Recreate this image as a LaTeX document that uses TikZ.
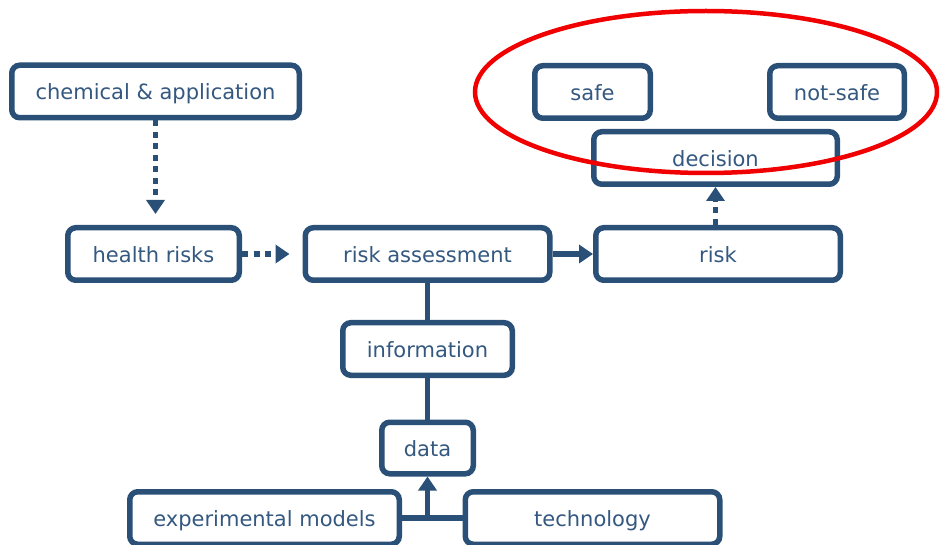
\documentclass[tikz,border=0pt]{standalone}
\usepackage{fontspec}
\setmainfont{DejaVu Sans}
\usetikzlibrary{arrows.meta,calc}
\definecolor{navy}{RGB}{42,80,120}
\definecolor{navytext}{RGB}{52,88,128}
\definecolor{hlred}{RGB}{240,0,0}
\tikzset{
  box/.style={draw=navy, line width=5.5pt, rounded corners=8pt, minimum height=52.5pt,
    inner sep=0pt, text height=19pt, text depth=2pt,
    text=navytext, font=\fontsize{21}{25}\selectfont, fill=white},
  conn/.style={draw=navy, line width=5.5pt},
  tip/.style={-{Triangle[width=18pt,length=14pt]}},
  dots/.style={dash pattern=on 6pt off 5.5pt},
}
\begin{document}
\begin{tikzpicture}[x=1pt,y=-1pt]
\useasboundingbox (0,0) rectangle (940,545);
\fill[white] (0,0) rectangle (940,545);
\node[box, minimum width=287.5pt] (chem) at (155.5,91.5) {chemical \& application};
\node[box, minimum width=171.5pt] (health) at (153.5,254) {health risks};
\node[box, minimum width=244.5pt] (ra) at (427.5,254) {risk assessment};
\node[box, minimum width=244.5pt] (risk) at (718,254) {risk};
\node[box, minimum width=243.5pt] (dec) at (715.5,158) {decision};
\node[box, minimum width=115.5pt] (safe) at (592.5,92) {safe};
\node[box, minimum width=134.5pt] (nsafe) at (837,92) {not-safe};
\node[box, minimum width=169.5pt] (info) at (427.5,349) {information};
\node[box, minimum width=91.5pt, minimum height=51.5pt] (data) at (427.5,448) {data};
\node[box, minimum width=269.5pt] (exp) at (264.5,518) {experimental models};
\node[box, minimum width=254.5pt] (tech) at (592.5,518) {technology};
\coordinate (j) at (data.south |- exp.east);
% connectors
\draw[conn, dots, tip, shorten >=11pt] (chem.south) -- (chem.south |- health.north);
\draw[conn, dots, tip, shorten >=13pt] (health.east) -- (ra.west);
\draw[conn, tip] (ra.east) -- (risk.west);
\draw[conn, dots, tip] (risk.north -| dec.south) -- (dec.south);
\draw[conn] (ra.south) -- (info.north);
\draw[conn] (info.south) -- (data.north);
\draw[conn] (exp.east) -- (tech.west);
\draw[conn, tip] (j) -- (data.south);
% highlight
\draw[hlred, line width=4.5pt] (706,92) ellipse [x radius=231pt, y radius=81pt];
\end{tikzpicture}
\end{document}
